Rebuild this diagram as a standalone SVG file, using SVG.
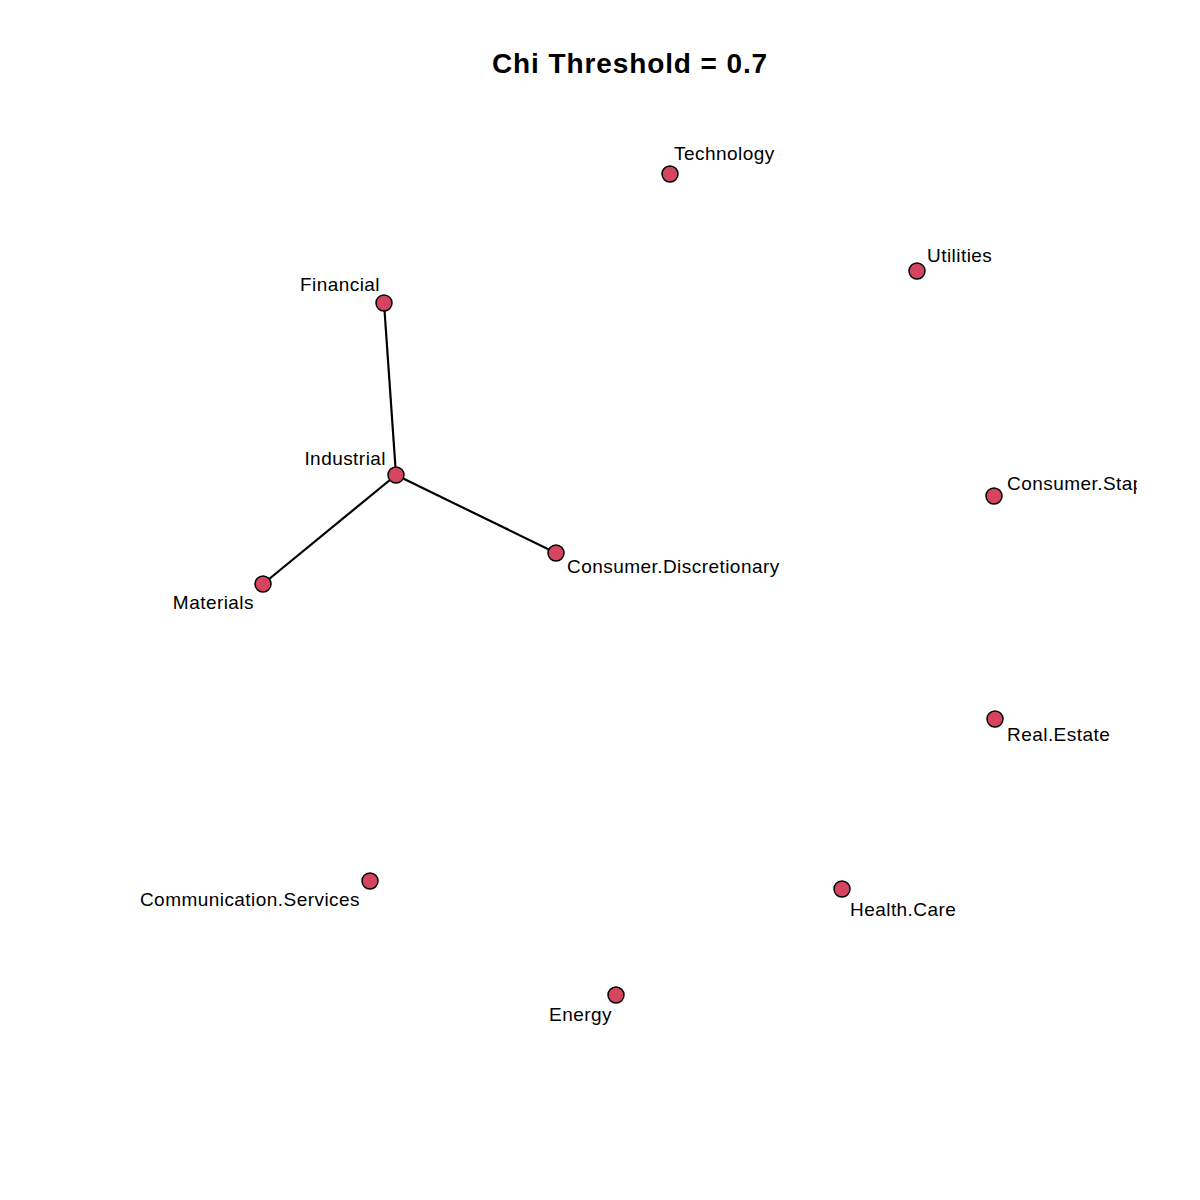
<svg xmlns="http://www.w3.org/2000/svg" width="1200" height="1200" viewBox="0 0 1200 1200">
<style>
.n{fill:#D6455F;stroke:#000;stroke-width:1.5}
.l{font-family:"Liberation Sans",Arial,sans-serif;font-size:19px;letter-spacing:0.45px;fill:#000}
.e{stroke:#000;stroke-width:2.2;fill:none}
.t{font-family:"Liberation Sans",Arial,sans-serif;font-size:28px;letter-spacing:0.9px;font-weight:bold;text-anchor:middle}
</style>
<defs><clipPath id="plot"><rect x="0" y="0" width="1137" height="1200"/></clipPath></defs>
<rect width="1200" height="1200" fill="#fff"/>
<text class="t" x="630" y="73">Chi Threshold = 0.7</text>
<g id="edges">
<line class="e" x1="384" y1="303" x2="396" y2="475"/>
<line class="e" x1="396" y1="475" x2="263" y2="584"/>
<line class="e" x1="396" y1="475" x2="556" y2="553"/>
</g>
<g clip-path="url(#plot)">
<g id="technology"><circle class="n" cx="670" cy="174" r="8"/><text class="l" x="674" y="160">Technology</text></g>
<g id="utilities"><circle class="n" cx="917" cy="271" r="8"/><text class="l" x="927" y="262">Utilities</text></g>
<g id="financial"><circle class="n" cx="384" cy="303" r="8"/><text class="l" x="380" y="291" text-anchor="end">Financial</text></g>
<g id="industrial"><circle class="n" cx="396" cy="475" r="8"/><text class="l" x="386" y="465" text-anchor="end">Industrial</text></g>
<g id="consumer-staples"><circle class="n" cx="994" cy="496" r="8"/><text class="l" x="1007" y="490">Consumer.Staples</text></g>
<g id="consumer-discretionary"><circle class="n" cx="556" cy="553" r="8"/><text class="l" x="567" y="573">Consumer.Discretionary</text></g>
<g id="materials"><circle class="n" cx="263" cy="584" r="8"/><text class="l" x="254" y="609" text-anchor="end">Materials</text></g>
<g id="real-estate"><circle class="n" cx="995" cy="719" r="8"/><text class="l" x="1007" y="741">Real.Estate</text></g>
<g id="communication-services"><circle class="n" cx="370" cy="881" r="8"/><text class="l" x="360" y="906" text-anchor="end">Communication.Services</text></g>
<g id="health-care"><circle class="n" cx="842" cy="889" r="8"/><text class="l" x="850" y="916">Health.Care</text></g>
<g id="energy"><circle class="n" cx="616" cy="995" r="8"/><text class="l" x="612" y="1021" text-anchor="end">Energy</text></g>
</g>
</svg>
